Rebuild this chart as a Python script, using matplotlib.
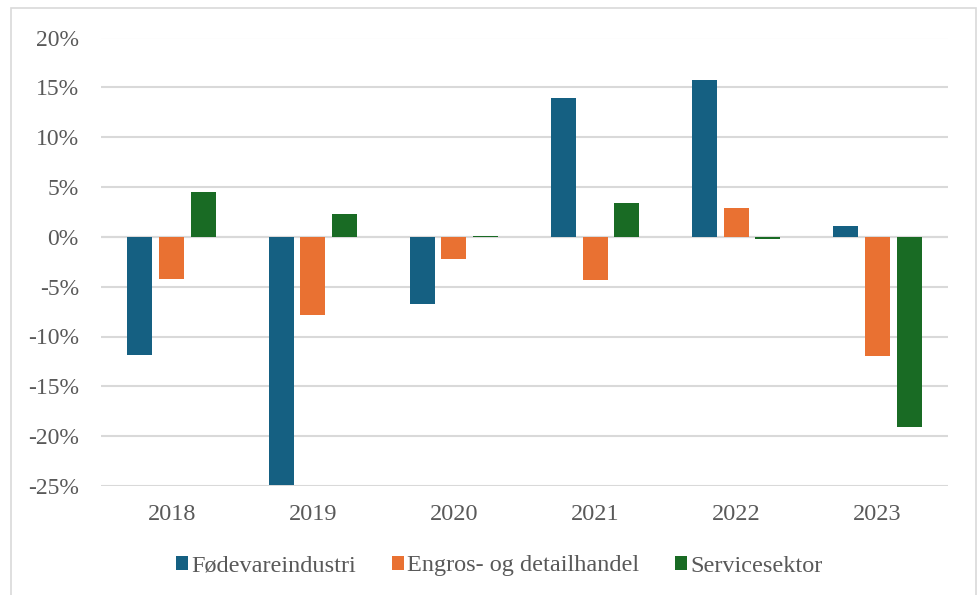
import numpy as np
import matplotlib.pyplot as plt
from matplotlib.patches import Rectangle

plt.rcParams['font.family'] = ['Liberation Serif', 'DejaVu Serif']

# ─── Data ────────────────────────────────────────────────────────────────────
years = ["2018", "2019", "2020", "2021", "2022", "2023"]
fodevare = [-11.9, -24.9, -6.7, 13.9, 15.7, 1.1]
engros = [-4.2, -7.8, -2.2, -4.3, 2.9, -12.0]
service = [4.5, 2.3, 0.1, 3.4, -0.2, -19.1]

series_names = ["Fødevareindustri", "Engros- og detailhandel", "Servicesektor"]
colors = ["#156082", "#E97132", "#196B24"]
yticks = [-25, -20, -15, -10, -5, 0, 5, 10, 15, 20]

fig = plt.figure(figsize=(9.77, 5.95), dpi=100)
ax = fig.add_axes([101 / 977, 1 - 486 / 595, 847 / 977, (486 - 37.5) / 595])

# outer chart frame
fig.patches.append(Rectangle((11 / 977, -0.02), 965 / 977, 1 - 8 / 595 + 0.02,
                             transform=fig.transFigure, fill=False,
                             edgecolor="#D9D9D9", linewidth=1.2))

x = np.arange(len(years))
width = 0.177
step = 0.224
for i, (vals, name, col) in enumerate(zip([fodevare, engros, service], series_names, colors)):
    ax.bar(x + (i - 1) * step, vals, width=width, color=col, label=name, zorder=3)

ax.set_xlim(-0.5, len(years) - 0.5)
ax.set_ylim(-25, 20)
ax.set_yticks(yticks)
ax.set_yticklabels([f"{v}%" for v in yticks])
ax.set_xticks(x)
ax.set_xticklabels(years)
ax.grid(axis="y", color="#D9D9D9", linewidth=1.5, zorder=0)
ax.axhline(0, color="#D9D9D9", linewidth=1.5, zorder=1)
for s in ax.spines.values():
    s.set_visible(False)
ax.tick_params(axis="y", length=0, labelsize=17, labelcolor="#595959", pad=16)
ax.tick_params(axis="x", length=0, labelsize=17.5, labelcolor="#595959", pad=13)

fig.legend(loc="center", bbox_to_anchor=(0.511, 1 - 566 / 595), ncol=3, frameon=False,
           prop={"size": 17.5}, labelcolor="#595959", handlelength=0.5, handleheight=0.5,
           handletextpad=0.12, columnspacing=1.48)

fig.savefig("out.png", dpi=100)
